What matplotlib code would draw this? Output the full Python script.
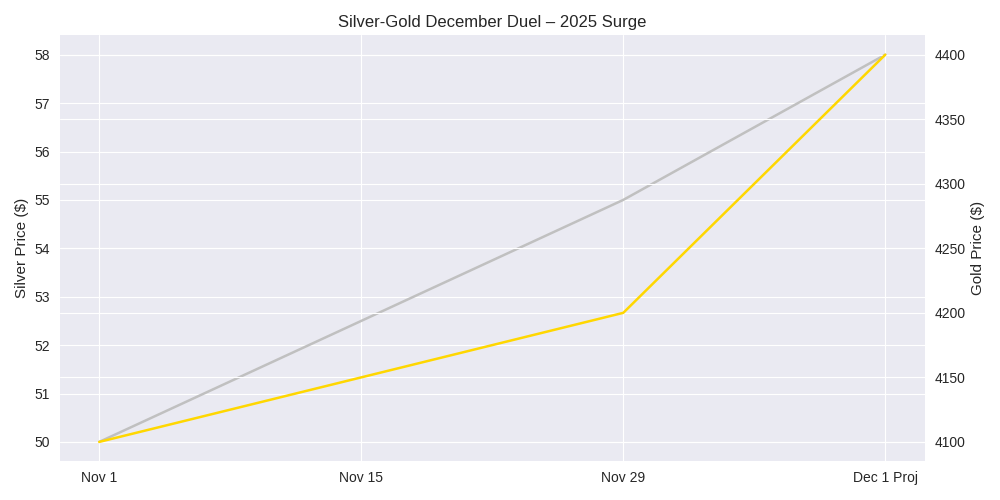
import matplotlib
matplotlib.use("Agg")
import matplotlib.pyplot as plt

dates = ["Nov 1", "Nov 15", "Nov 29", "Dec 1 Proj"]
silver = [50, 52.5, 55, 58]
gold = [4100, 4150, 4200, 4400]

plt.style.use("seaborn-v0_8-darkgrid")
plt.rcParams["font.family"] = ["Liberation Sans", "DejaVu Sans"]

fig, ax1 = plt.subplots(figsize=(10, 5), dpi=100)
ax1.plot(dates, silver, color="silver", linewidth=1.8, label="Silver")
ax1.set_ylabel("Silver Price ($)", fontsize=11)
ax1.tick_params(pad=7)

ax2 = ax1.twinx()
ax2.plot(dates, gold, color="gold", linewidth=1.8, label="Gold")
ax2.set_ylabel("Gold Price ($)", fontsize=11)
ax2.tick_params(pad=7)

ax1.set_title("Silver-Gold December Duel – 2025 Surge")
fig.tight_layout()
fig.savefig("out.png")
